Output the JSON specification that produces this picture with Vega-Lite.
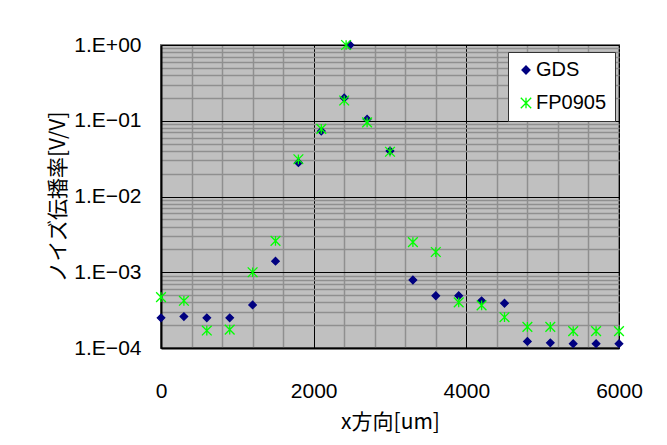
{
  "$schema": "https://vega.github.io/schema/vega-lite/v6.json",
  "width": 458,
  "height": 303,
  "autosize": {"type": "none"},
  "padding": {"left": 161, "top": 45, "right": 48, "bottom": 97},
  "background": "white",
  "config": {
    "view": {"fill": "#C0C0C0", "stroke": "#7a7a7a", "strokeWidth": 2},
    "axis": {"labelColor": "black", "titleColor": "black", "titleFontWeight": "normal"}
  },
  "data": {
    "values": [
      {"x": 0, "y": 0.00025, "series": "GDS"},
      {"x": 300, "y": 0.00026, "series": "GDS"},
      {"x": 600, "y": 0.00025, "series": "GDS"},
      {"x": 900, "y": 0.00025, "series": "GDS"},
      {"x": 1200, "y": 0.00037, "series": "GDS"},
      {"x": 1500, "y": 0.0014, "series": "GDS"},
      {"x": 1800, "y": 0.028, "series": "GDS"},
      {"x": 2100, "y": 0.073, "series": "GDS"},
      {"x": 2400, "y": 0.2, "series": "GDS"},
      {"x": 2475, "y": 1.0, "series": "GDS"},
      {"x": 2700, "y": 0.105, "series": "GDS"},
      {"x": 3000, "y": 0.04, "series": "GDS"},
      {"x": 3300, "y": 0.00079, "series": "GDS"},
      {"x": 3600, "y": 0.00049, "series": "GDS"},
      {"x": 3900, "y": 0.00049, "series": "GDS"},
      {"x": 4200, "y": 0.00042, "series": "GDS"},
      {"x": 4500, "y": 0.00039, "series": "GDS"},
      {"x": 4800, "y": 0.000122, "series": "GDS"},
      {"x": 5100, "y": 0.000117, "series": "GDS"},
      {"x": 5400, "y": 0.000114, "series": "GDS"},
      {"x": 5700, "y": 0.000114, "series": "GDS"},
      {"x": 6000, "y": 0.000114, "series": "GDS"},
      {"x": 0, "y": 0.00047, "series": "FP0905"},
      {"x": 300, "y": 0.00042, "series": "FP0905"},
      {"x": 600, "y": 0.00017, "series": "FP0905"},
      {"x": 900, "y": 0.000175, "series": "FP0905"},
      {"x": 1200, "y": 0.001, "series": "FP0905"},
      {"x": 1500, "y": 0.0026, "series": "FP0905"},
      {"x": 1800, "y": 0.031, "series": "FP0905"},
      {"x": 2100, "y": 0.078, "series": "FP0905"},
      {"x": 2400, "y": 0.185, "series": "FP0905"},
      {"x": 2425, "y": 1.0, "series": "FP0905"},
      {"x": 2700, "y": 0.095, "series": "FP0905"},
      {"x": 3000, "y": 0.039, "series": "FP0905"},
      {"x": 3300, "y": 0.0025, "series": "FP0905"},
      {"x": 3600, "y": 0.00185, "series": "FP0905"},
      {"x": 3900, "y": 0.0004, "series": "FP0905"},
      {"x": 4200, "y": 0.000365, "series": "FP0905"},
      {"x": 4500, "y": 0.000255, "series": "FP0905"},
      {"x": 4800, "y": 0.00019, "series": "FP0905"},
      {"x": 5100, "y": 0.00019, "series": "FP0905"},
      {"x": 5400, "y": 0.000167, "series": "FP0905"},
      {"x": 5700, "y": 0.000167, "series": "FP0905"},
      {"x": 6000, "y": 0.000167, "series": "FP0905"}
    ]
  },
  "layer": [
    {
      "mark": {"type": "point", "opacity": 0},
      "encoding": {
        "x": {
          "field": "x", "type": "quantitative",
          "scale": {"domain": [0, 6000], "nice": false, "zero": false},
          "axis": {"orient": "top", "values": [400, 800, 1200, 1600, 2400, 2800, 3200, 3600, 4400, 4800, 5200, 5600],
            "grid": true, "gridColor": "#8f8f8f", "gridWidth": 1.5, "labels": false, "ticks": false, "domain": false, "title": null}
        },
        "y": {
          "field": "y", "type": "quantitative",
          "scale": {"type": "log", "domain": [0.0001, 1], "nice": false},
          "axis": {"orient": "right",
            "values": [0.0002, 0.0003, 0.0004, 0.0005, 0.0006, 0.0007, 0.0008, 0.0009, 0.002, 0.003, 0.004, 0.005, 0.006, 0.007, 0.008, 0.009, 0.02, 0.03, 0.04, 0.05, 0.06, 0.07, 0.08, 0.09, 0.2, 0.3, 0.4, 0.5, 0.6, 0.7, 0.8, 0.9],
            "grid": true, "gridColor": "#8f8f8f", "gridWidth": 1.5, "labels": false, "ticks": false, "domain": false, "title": null}
        }
      }
    },
    {
      "mark": {"type": "point", "filled": true, "strokeWidth": 1.3, "opacity": 1},
      "encoding": {
        "x": {
          "field": "x", "type": "quantitative",
          "scale": {"domain": [0, 6000], "nice": false, "zero": false},
          "axis": {"orient": "bottom", "values": [0, 2000, 4000, 6000], "format": "d", "labelFlush": false, "labelOverlap": false,
            "grid": true, "gridColor": "black", "gridWidth": 1,
            "domain": true, "domainColor": "black", "domainWidth": 2, "ticks": false,
            "labelPadding": 32, "labelFont": "Liberation Sans", "labelFontSize": 21,
            "title": "x方向[um]", "titleFont": "Noto Sans CJK JP", "titleFontSize": 21, "titlePadding": 10}
        },
        "y": {
          "field": "y", "type": "quantitative",
          "scale": {"type": "log", "domain": [0.0001, 1], "nice": false},
          "axis": {"orient": "left", "values": [0.0001, 0.001, 0.01, 0.1, 1], "grid": true, "gridColor": "black", "gridWidth": 1,
            "domain": true, "domainColor": "black", "domainWidth": 2, "ticks": false, "labelFlush": false, "labelOverlap": false,
            "labelExpr": "datum.value >= 1 ? '1.E+00' : '1.E−0' + round(-log(datum.value) / LN10)",
            "labelPadding": 20, "labelFont": "Liberation Sans", "labelFontSize": 21,
            "title": "ノイズ伝播率[V/V]", "titleFont": "Noto Sans CJK JP", "titleFontSize": 21, "titlePadding": 5}
        },
        "color": {
          "field": "series", "type": "nominal",
          "scale": {"domain": ["GDS", "FP0905"], "range": ["#000080", "#00FF00"]},
          "legend": {
            "title": null, "orient": "none", "legendX": 347, "legendY": 7,
            "fillColor": "white", "strokeColor": "#333", "padding": 8, "rowPadding": 13,
            "symbolSize": 64, "symbolOffset": 0, "labelOffset": 0,
            "labelFont": "Liberation Sans", "labelFontSize": 20, "labelColor": "black", "symbolStrokeWidth": 1.3
          }
        },
        "stroke": {
          "field": "series", "type": "nominal",
          "scale": {"domain": ["GDS", "FP0905"], "range": ["#000080", "#00FF00"]},
          "legend": null
        },
        "shape": {
          "field": "series", "type": "nominal",
          "scale": {"domain": ["GDS", "FP0905"], "range": ["diamond", "M-1.3,-1.3L1.3,1.3M1.3,-1.3L-1.3,1.3M0,-1.3L0,1.3"]},
          "legend": null
        },
        "size": {"value": 56}
      }
    }
  ],
  "resolve": {"axis": {"x": "independent", "y": "independent"}}
}
